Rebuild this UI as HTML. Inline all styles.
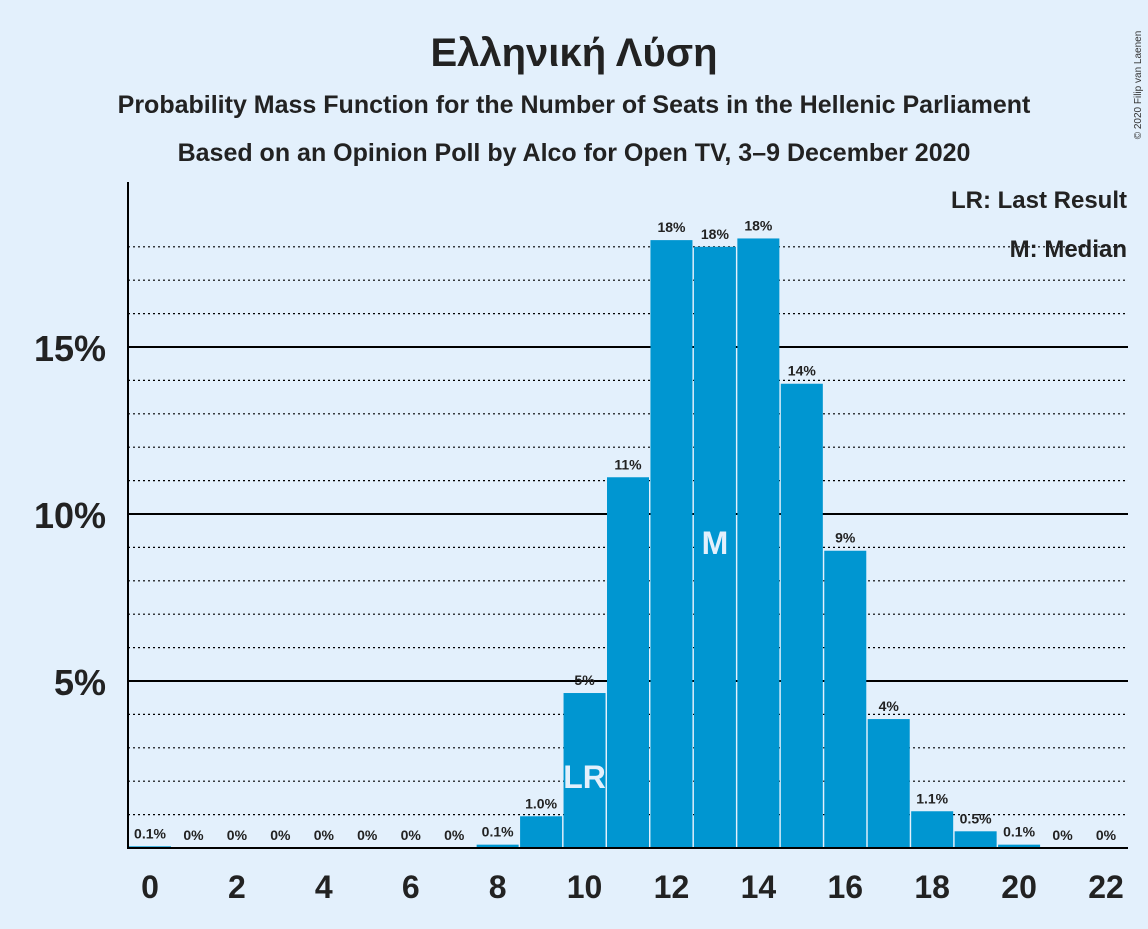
<!DOCTYPE html>
<html><head><meta charset="utf-8"><style>
body{margin:0;background:#e3f0fc;font-family:"Liberation Sans",sans-serif;}
svg text{font-family:"Liberation Sans","DejaVu Sans",sans-serif;}
</style></head><body>
<svg id="c" width="1148" height="924" xmlns="http://www.w3.org/2000/svg">
<rect width="1148" height="924" fill="#e3f0fc"/>
<text x="574" y="66" text-anchor="middle" font-size="40" font-weight="bold" fill="#222">Ελληνική Λύση</text>
<text x="574" y="113" text-anchor="middle" font-size="25" font-weight="bold" fill="#222">Probability Mass Function for the Number of Seats in the Hellenic Parliament</text>
<text x="574" y="161" text-anchor="middle" font-size="25" font-weight="bold" fill="#222">Based on an Opinion Poll by Alco for Open TV, 3–9 December 2020</text>
<text x="1141" y="85" font-size="10" fill="#333" transform="rotate(-90 1141 85)" text-anchor="middle">© 2020 Filip van Laenen</text>
<g id="grid"></g><g id="bars"></g><g id="axes"></g>
<text x="1127" y="208" text-anchor="end" font-size="24" font-weight="bold" fill="#222">LR: Last Result</text>
<text x="1127" y="257" text-anchor="end" font-size="24" font-weight="bold" fill="#222">M: Median</text>
</svg>
<script>
const seats=[0,1,2,3,4,5,6,7,8,9,10,11,12,13,14,15,16,17,18,19,20,21,22];
const probs=[0.05,0,0,0,0,0,0,0,0.1,0.95,4.64,11.1,18.2,18.0,18.25,13.9,8.9,3.86,1.1,0.5,0.1,0,0];
const labels=["0.1%","0%","0%","0%","0%","0%","0%","0%","0.1%","1.0%","5%","11%","18%","18%","18%","14%","9%","4%","1.1%","0.5%","0.1%","0%","0%"];
const yTicks=[5,10,15];
const xTicks=[0,2,4,6,8,10,12,14,16,18,20,22];
const lastResult=10, median=13;
const NS="http://www.w3.org/2000/svg";
const x=s=>150+s*(956/22);
const y=v=>848-v*33.4;
function mk(t,a,p){const e=document.createElementNS(NS,t);for(const k in a)e.setAttribute(k,a[k]);p.appendChild(e);return e;}
const G=document.getElementById('grid'),B=document.getElementById('bars'),A=document.getElementById('axes');
for(let v=1;v<=18;v++){
  if(v%5===0){const l=mk('line',{x1:128,x2:1128,y1:y(v),y2:y(v),stroke:'#000','stroke-width':2},G);
    
    }
  else{const l=mk('line',{x1:128,x2:1128,y1:y(v),y2:y(v),stroke:'#000','stroke-width':1.2,'stroke-dasharray':'2,3'},G);
    
    }
}
yTicks.forEach(v=>{const t=mk('text',{x:106,y:y(v)+14,'text-anchor':'end','font-size':36,'font-weight':'bold',fill:'#222'},A);t.textContent=v+'%';
  
  });
xTicks.forEach(s=>{const t=mk('text',{x:x(s),y:898,'text-anchor':'middle','font-size':32,'font-weight':'bold',fill:'#222'},A);t.textContent=s;
  
  });
seats.forEach((s,i)=>{
  const h=probs[i]*33.4;
  const r=mk('rect',{x:x(s)-21,y:y(probs[i]),width:42,height:h,fill:'#0096d1'},B);
  
  
  const t=mk('text',{x:x(s),y:y(probs[i])-8,'text-anchor':'middle','font-size':14,'font-weight':'bold',fill:'#222'},B);
  t.textContent=labels[i];
  
  
  if(s===lastResult){const m=mk('text',{x:x(s),y:y(probs[i])+95,'text-anchor':'middle','font-size':32,'font-weight':'bold',fill:'#e3f0fc'},B);m.textContent='LR';
    
    }
  if(s===median){const m=mk('text',{x:x(s),y:y(10)+40,'text-anchor':'middle','font-size':32,'font-weight':'bold',fill:'#e3f0fc'},B);m.textContent='M';
    
    }
});
const ax=mk('line',{x1:128,x2:128,y1:182,y2:849,stroke:'#000','stroke-width':2},A);


const bx=mk('line',{x1:127,x2:1128,y1:848,y2:848,stroke:'#000','stroke-width':2},A);


</script>
</body></html>
